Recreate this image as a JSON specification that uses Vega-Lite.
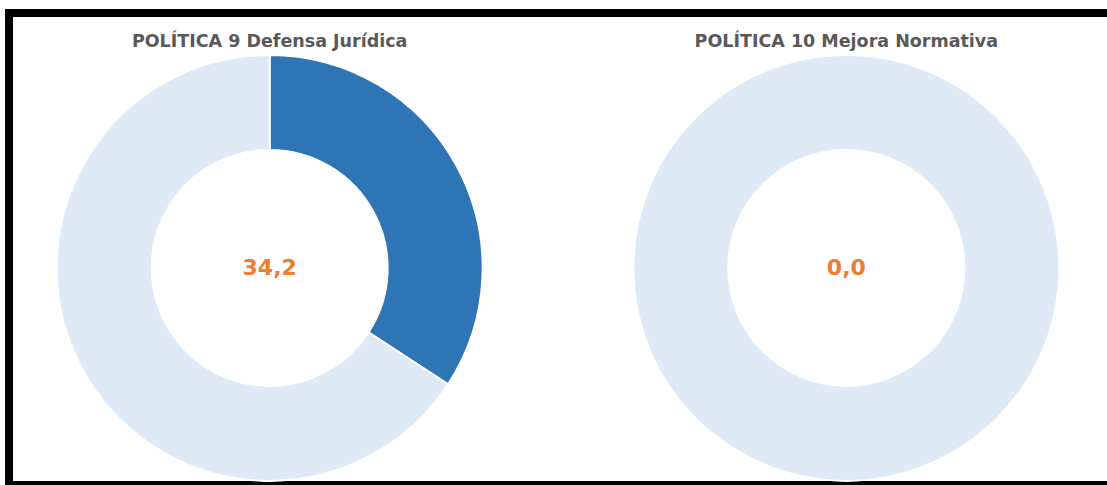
{
  "$schema": "https://vega.github.io/schema/vega-lite/v6.json",
  "autosize": {"type": "fit", "contains": "padding"},
  "width": 1107,
  "height": 485,
  "padding": {"left": 9, "top": 13, "right": 0, "bottom": 0},
  "background": "#ffffff",
  "config": {"view": {"stroke": "#000000", "strokeWidth": 8, "strokeDash": [1098, 472, 3000]}},
  "data": {"values": [
    {"panel": "P9", "fila": "donas", "titulo": "POLÍTICA 9 Defensa Jurídica", "estado": "Avance", "valor": 34.2, "orden": 1, "etiqueta": "34,2"},
    {"panel": "P9", "fila": "donas", "titulo": "POLÍTICA 9 Defensa Jurídica", "estado": "Pendiente", "valor": 65.8, "orden": 2, "etiqueta": ""},
    {"panel": "P10", "fila": "donas", "titulo": "POLÍTICA 10 Mejora Normativa", "estado": "Avance", "valor": 0, "orden": 1, "etiqueta": "0,0"},
    {"panel": "P10", "fila": "donas", "titulo": "POLÍTICA 10 Mejora Normativa", "estado": "Pendiente", "valor": 100, "orden": 2, "etiqueta": ""}
  ]},
  "encoding": {
    "x": {"field": "panel", "type": "nominal", "scale": {"type": "point", "domain": ["P9", "P10"], "padding": 0.452}, "axis": null},
    "y": {"field": "fila", "type": "nominal", "scale": {"type": "point", "align": 0.54}, "axis": null}
  },
  "layer": [
    {
      "transform": [{"filter": "datum.panel === 'P9'"}],
      "mark": {"type": "arc", "outerRadius": 213, "innerRadius": 118, "stroke": "#ffffff", "strokeWidth": 2},
      "encoding": {
        "theta": {"field": "valor", "type": "quantitative", "stack": true},
        "order": {"field": "orden", "type": "quantitative"},
        "color": {"field": "estado", "type": "nominal", "scale": {"domain": ["Avance", "Pendiente"], "range": ["#2E75B6", "#DEEBF7"]}, "legend": null}
      }
    },
    {
      "transform": [{"filter": "datum.panel === 'P10'"}],
      "mark": {"type": "arc", "outerRadius": 213, "innerRadius": 118, "stroke": "#ffffff", "strokeWidth": 2},
      "encoding": {
        "theta": {"field": "valor", "type": "quantitative", "stack": true},
        "order": {"field": "orden", "type": "quantitative"},
        "color": {"field": "estado", "type": "nominal", "legend": null}
      }
    },
    {
      "transform": [{"filter": "datum.estado === 'Avance'"}],
      "mark": {"type": "text", "font": "DejaVu Sans", "fontWeight": "bold", "fontSize": 17.5, "color": "#595959", "baseline": "middle", "align": "center", "dy": -226},
      "encoding": {"text": {"field": "titulo"}}
    },
    {
      "transform": [{"filter": "datum.estado === 'Avance'"}],
      "mark": {"type": "text", "font": "DejaVu Sans", "fontWeight": "bold", "fontSize": 22, "color": "#ED7D31", "baseline": "middle", "align": "center"},
      "encoding": {"text": {"field": "etiqueta"}}
    }
  ]
}
